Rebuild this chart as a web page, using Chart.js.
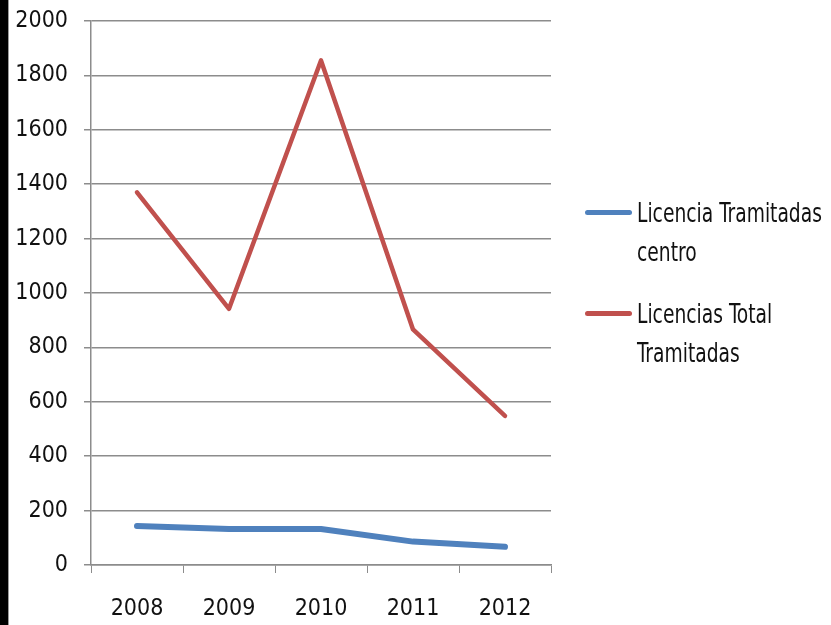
<!DOCTYPE html>
<html>
<head>
<meta charset="utf-8">
<script src="https://cdn.jsdelivr.net/npm/chart.js@4/dist/chart.umd.min.js"></script>
<style>
  html, body { margin: 0; padding: 0; background: #fff; }
  #wrap { position: relative; width: 831px; height: 625px; overflow: hidden; }
  #edge { position: absolute; left: 0; top: 0; width: 8px; height: 625px; background: #000; border-right: 1px solid #9a9a9a; z-index: 2; }
  #legend { position: absolute; left: 585px; top: 193px; z-index: 2;
    font-family: 'DejaVu Sans Condensed', 'Liberation Sans', sans-serif; font-size: 27px; color: #111; }
  .item { display: flex; align-items: flex-start; margin-bottom: 23px; }
  .swatch { width: 47px; height: 5px; border-radius: 3px; margin-top: 17px; margin-right: 5px; flex: none; }
  .txt { line-height: 39px; white-space: nowrap; transform: scaleX(0.77); transform-origin: left center; }
</style>
</head>
<body>
<div id="wrap">
  <div id="edge"></div>
  <canvas id="chart" width="831" height="625"></canvas>
  <div id="legend"></div>
</div>
<script>
// ─── Data ───
const years = ['2008', '2009', '2010', '2011', '2012'];
const centro = [143, 132, 132, 86, 67];
const total = [1370, 942, 1855, 866, 548];
const seriesNames = [['Licencia Tramitadas', 'centro'], ['Licencias Total', 'Tramitadas']];
const seriesColors = ['#4F81BD', '#C0504D'];

const FONT = "'DejaVu Sans Condensed', 'Liberation Sans', sans-serif";
const GRID = '#8c8c8c';

new Chart(document.getElementById('chart').getContext('2d'), {
  type: 'line',
  data: {
    labels: years,
    datasets: [
      { label: seriesNames[0].join(' '), data: centro, borderColor: seriesColors[0], borderWidth: 6,
        pointRadius: 0, tension: 0, borderCapStyle: 'round', borderJoinStyle: 'round' },
      { label: seriesNames[1].join(' '), data: total, borderColor: seriesColors[1], borderWidth: 4.5,
        pointRadius: 0, tension: 0, borderCapStyle: 'round', borderJoinStyle: 'round' },
    ],
  },
  options: {
    responsive: false,
    animation: false,
    layout: { padding: { top: 21, right: 280, left: 0, bottom: 0 } },
    plugins: { legend: { display: false }, tooltip: { enabled: false } },
    scales: {
      x: {
        offset: true,
        grid: { offset: true, drawOnChartArea: false, drawTicks: true, tickLength: 8, color: GRID },
        border: { color: GRID, width: 1.5 },
        ticks: { color: '#111', font: { family: FONT, size: 23 }, padding: 22, maxRotation: 0 },
        afterFit: s => { s.height = 60; s.paddingLeft = 0; s.paddingRight = 0; },
      },
      y: {
        min: 0, max: 2000,
        grid: { color: GRID, lineWidth: 1.5, tickLength: 7 },
        border: { color: GRID, width: 1.5 },
        ticks: { stepSize: 200, color: '#111', font: { family: FONT, size: 23 }, padding: 16,
          callback: v => String(v) },
        afterFit: s => { s.width = 91; s.paddingTop = 0; s.paddingBottom = 0; },
      },
    },
  },
});

// Legend (two-line labels, like the original)
document.getElementById('legend').innerHTML = seriesNames.map((lines, i) => `
  <div class="item">
    <span class="swatch" style="background:${seriesColors[i]}"></span>
    <span class="txt">${lines.join('<br>')}</span>
  </div>`).join('');
</script>
</body>
</html>
